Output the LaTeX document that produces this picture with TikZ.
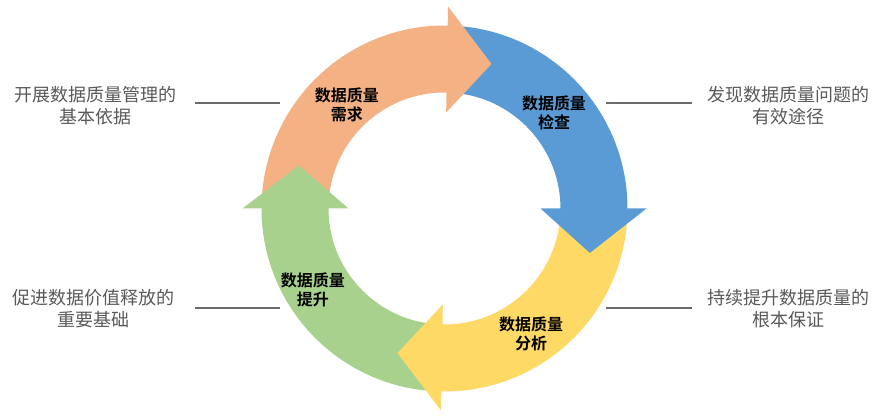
\documentclass[tikz,border=0pt]{standalone}
\usepackage{fontspec}
\setmainfont{Noto Sans CJK SC}[BoldFont={Noto Sans CJK SC Bold}]
\usepackage{xcolor}
\definecolor{reqorange}{HTML}{F4B183}
\definecolor{chkblue}{HTML}{5B9BD5}
\definecolor{anayellow}{HTML}{FFD966}
\definecolor{upgreen}{HTML}{A9D18E}
\definecolor{sidegray}{HTML}{595959}
\definecolor{leadgray}{HTML}{6B6B6B}
\usetikzlibrary{
  positioning,
  shapes
}

\begin{document}
\begin{tikzpicture}[x=1pt, y=1pt,
        stage/.style={align=center, font=\fontsize{16}{18.5}\selectfont\bfseries, text=black, inner sep=0pt},
        side/.style={align=center, font=\fontsize{18}{22}\selectfont, text=sidegray, inner sep=0pt},
        leader/.style={draw=leadgray, line width=2pt}]
        \useasboundingbox (-444.5,-208.5) rectangle (433.5,208.5);
	\fill[reqorange]  (178.5:183) arc[start angle=178.5, end angle=87.5, radius=183] -- (87.5:116) arc[start angle=87.5, end angle=178.5, radius=116] -- cycle;
	\fill[chkblue]    (87.5:183) arc[start angle=87.5, end angle=-1.5, radius=183] -- (-1.5:116) arc[start angle=-1.5, end angle=87.5, radius=116] -- cycle;
	\fill[anayellow]  (-1.5:183) arc[start angle=-1.5, end angle=-92.5, radius=183] -- (-92.5:116) arc[start angle=-92.5, end angle=-1.5, radius=116] -- cycle;
	\fill[upgreen]    (-92.5:183) arc[start angle=-92.5, end angle=-181.5, radius=183] -- (-181.5:116) arc[start angle=-181.5, end angle=-92.5, radius=116] -- cycle;
	\fill[reqorange]  (89:202) -- (72:152) -- (89:96) -- cycle;
	\fill[chkblue]    (0:202) -- (-17:152) -- (0:96) -- cycle;
	\fill[anayellow]  (-91:202) -- (-108:152) -- (-91:96) -- cycle;
	\fill[upgreen]    (180:202) -- (163.5:152) -- (180:96) -- cycle;
        \node[stage] (req) at (-97.5, 103.5) {数据质量\\需求};
        \node[stage] (chk) at (109.5, 95.5) {数据质量\\检查};
        \node[stage] (ana) at (86.5, -125.5) {数据质量\\分析};
        \node[stage] (upg) at (-131.5, -81.5) {数据质量\\提升};
        \node[side] (basis) at (-348.5, 102.5) {开展数据质量管理的\\基本依据};
        \node[side] (way) at (343.5, 102.5) {发现数据质量问题的\\有效途径};
        \node[side] (value) at (-350.5, -100.5) {促进数据价值释放的\\重要基础};
        \node[side] (guar) at (343.5, -100.5) {持续提升数据质量的\\根本保证};
        \coordinate (basisL) at (-249.5, 105.5);
        \coordinate (basisR) at (-164.5, 105.5);
        \coordinate (wayL) at (161.5, 105.5);
        \coordinate (wayR) at (247.5, 105.5);
        \coordinate (valueL) at (-249.5, -99.5);
        \coordinate (valueR) at (-164.5, -99.5);
        \coordinate (guarL) at (161.5, -99.5);
        \coordinate (guarR) at (247.5, -99.5);
	\draw[leader] (basisL) -- (basisR);
	\draw[leader] (wayL) -- (wayR);
	\draw[leader] (valueL) -- (valueR);
	\draw[leader] (guarL) -- (guarR);
\end{tikzpicture}
\end{document}
